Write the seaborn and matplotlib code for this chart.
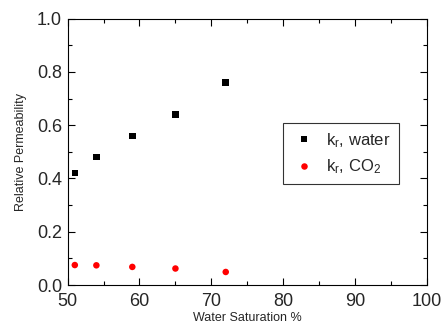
import matplotlib
matplotlib.use("Agg")
import matplotlib.pyplot as plt
import seaborn as sns
import pandas as pd
from matplotlib.ticker import MultipleLocator

sat = [51, 54, 59, 65, 72]
kr_water = [0.42, 0.48, 0.56, 0.64, 0.76]
kr_co2 = [0.075, 0.074, 0.068, 0.062, 0.049]
series_labels = ["$\\mathregular{k_r}$, water", "$\\mathregular{k_r}$, CO$\\mathregular{_2}$"]
x_ticks = [50, 60, 70, 80, 90, 100]
y_ticks = [0.0, 0.2, 0.4, 0.6, 0.8, 1.0]

df = pd.DataFrame({
    "sat": sat + sat,
    "kr": kr_water + kr_co2,
    "series": [series_labels[0]] * len(sat) + [series_labels[1]] * len(sat),
})

sns.set_theme(style="ticks")
plt.rcParams["font.family"] = ["Liberation Sans", "DejaVu Sans"]
plt.rcParams["mathtext.fontset"] = "custom"
plt.rcParams["mathtext.rm"] = "Liberation Sans"
plt.rcParams["mathtext.it"] = "Liberation Sans"

fig = plt.figure(figsize=(4.42, 3.25), dpi=100)
ax = fig.add_axes([0.153, 0.123, 0.813, 0.8195])

sns.scatterplot(data=df, x="sat", y="kr", hue="series", style="series",
                palette={series_labels[0]: "black", series_labels[1]: "#ff0000"},
                markers={series_labels[0]: "s", series_labels[1]: "o"},
                s=22, linewidth=0, ax=ax)

ax.set_xlim(50, 100)
ax.set_ylim(0, 1.0)
ax.set_xticks(x_ticks)
ax.set_yticks(y_ticks)
ax.set_yticklabels([f"{v:.1f}" for v in y_ticks])
ax.xaxis.set_minor_locator(MultipleLocator(5))
ax.yaxis.set_minor_locator(MultipleLocator(0.1))
ax.tick_params(which="both", direction="in", top=True, right=True, color="black")
ax.tick_params(which="major", length=5, width=0.8, labelsize=13)
ax.tick_params(axis="x", which="major", pad=6)
ax.tick_params(axis="y", which="major", pad=4)
ax.tick_params(which="minor", length=3, width=0.8)
for sp in ax.spines.values():
    sp.set_color("black")
    sp.set_linewidth(0.8)

ax.set_xlabel("Water Saturation %", fontsize=9, labelpad=1)
ax.set_ylabel("Relative Permeability", fontsize=9, labelpad=7)

leg = ax.legend(loc="upper left", bbox_to_anchor=(0.575, 0.64), fontsize=12,
                frameon=True, fancybox=False, edgecolor="black", markerscale=1.0,
                handletextpad=0.5, borderpad=0.5, labelspacing=0.45, handlelength=1.6)
leg.get_frame().set_linewidth(0.8)

fig.savefig("out.png", dpi=100)
